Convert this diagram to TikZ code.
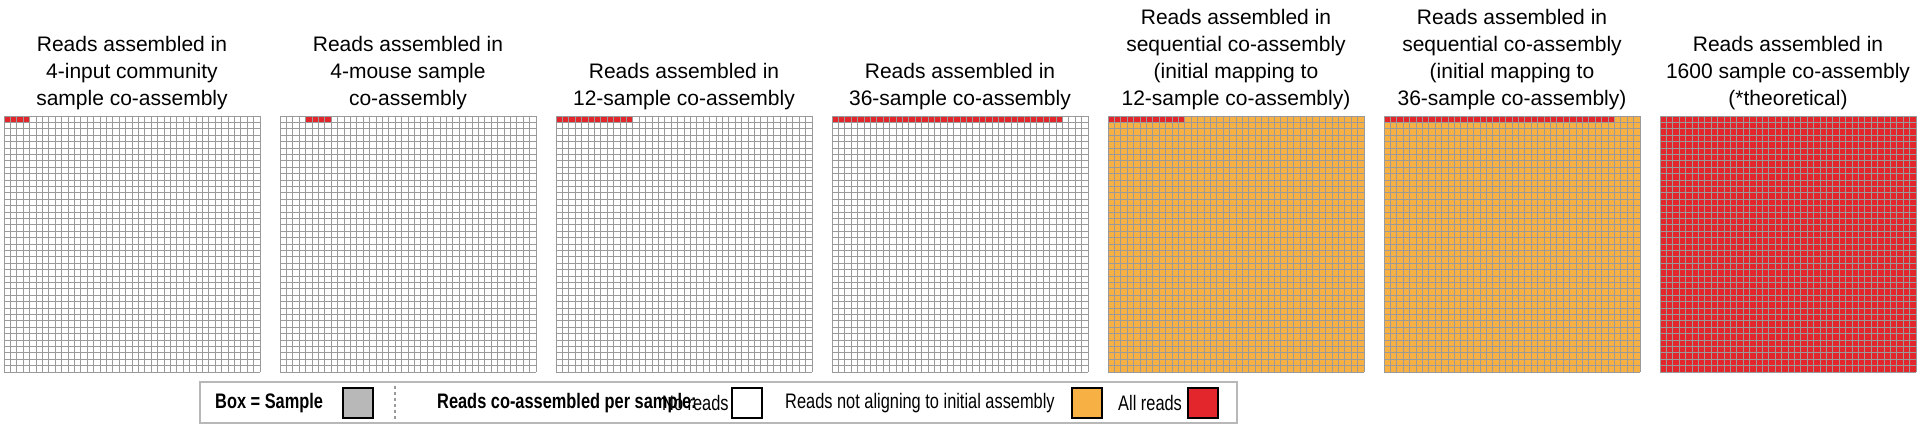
\documentclass[tikz,border=0pt]{standalone}
\usepackage{fontspec}
\setmainfont{Liberation Sans}
\newfontfamily\narrowfont[FakeStretch=0.78]{Liberation Sans}
\definecolor{rd}{HTML}{E3262B}
\definecolor{og}{HTML}{F6B043}
\definecolor{gl}{HTML}{9A9A9A}
\begin{document}
\begin{tikzpicture}[x=1pt,y=-1pt,
  ttl/.style={anchor=south,align=center,font=\fontsize{21}{27}\selectfont,inner sep=0},
  lg/.style={anchor=west,inner sep=0,font=\narrowfont\fontsize{21}{24}\selectfont},
  sw/.style={draw=black,line width=1.6pt,minimum width=30pt,minimum height=30pt,inner sep=0}]
\useasboundingbox (0,0) rectangle (1920,440);
\def\cs{6.4}
\newcommand\mypanel[4]{%
  \fill[#2] (#1,116) rectangle ++(256,256);
  \ifnum#4>0 \fill[rd] ({#1+#3*\cs},116) rectangle ({#1+#4*\cs},{116+\cs});\fi
  \foreach \i in {0,...,40}{
    \draw[gl,line width=0.7pt] ({#1+\i*\cs},116) -- ++(0,256);
    \draw[gl,line width=0.7pt] (#1,{116+\i*\cs}) -- ++(256,0);}
}
\mypanel{4}{white}{0}{4}
\mypanel{280}{white}{4}{8}
\mypanel{556}{white}{0}{12}
\mypanel{832}{white}{0}{36}
\mypanel{1108}{og}{0}{12}
\mypanel{1384}{og}{0}{36}
\mypanel{1660}{rd}{0}{40}
\node[ttl] (t1) at (132,110) {Reads assembled in\\4-input community\\sample co-assembly};
\node[ttl] (t2) at (408,110) {Reads assembled in\\4-mouse sample\\co-assembly};
\node[ttl] (t3) at (684,110) {Reads assembled in\\12-sample co-assembly};
\node[ttl] (t4) at (960,110) {Reads assembled in\\36-sample co-assembly};
\node[ttl] (t5) at (1236,110) {Reads assembled in\\sequential co-assembly\\(initial mapping to\\12-sample co-assembly)};
\node[ttl] (t6) at (1512,110) {Reads assembled in\\sequential co-assembly\\(initial mapping to\\36-sample co-assembly)};
\node[ttl] (t7) at (1788,110) {Reads assembled in\\1600 sample co-assembly\\(*theoretical)};
% legend
\draw[gl!70,line width=2pt] (200,382) rectangle (1237,423);
\node[lg] (l1) at (215,403) {\bfseries Box = Sample};
\node[sw,fill=gl!70] (s1) at (358,403) {};
\draw[gl,line width=1.5pt,dashed] (395,386) -- (395,420);
\node[lg] (l2) at (437,403) {\bfseries Reads co-assembled per sample:};
\node[lg] (l3) at (662,403) {No reads};
\node[sw,fill=white] (s2) at (747,403) {};
\node[lg] (l4) at (785,403) {Reads not aligning to initial assembly};
\node[sw,fill=og] (s3) at (1087,403) {};
\node[lg] (l5) at (1118,403) {All reads};
\node[sw,fill=rd] (s4) at (1203,403) {};
\end{tikzpicture}
\end{document}
